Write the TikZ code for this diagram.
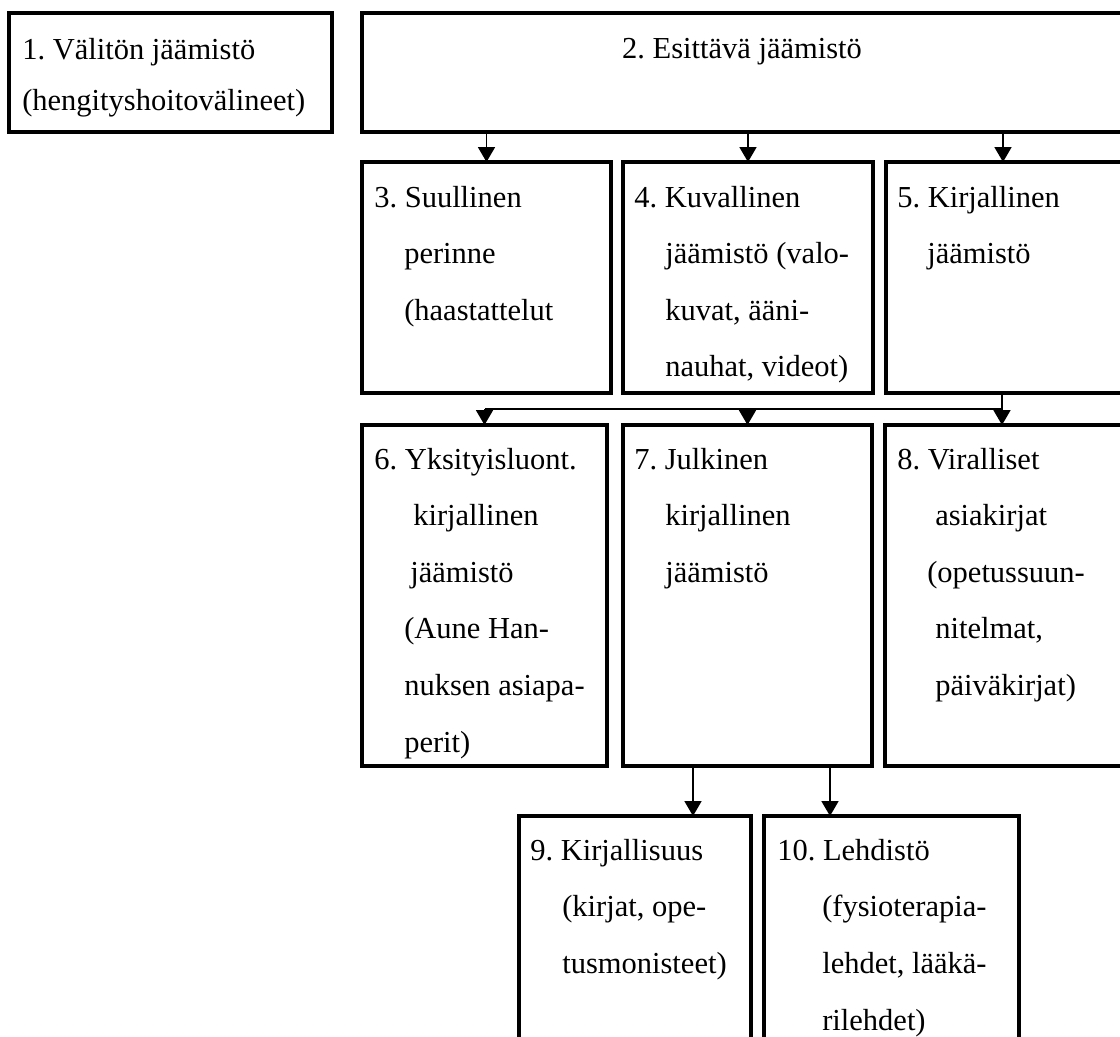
\documentclass[tikz,border=0pt]{standalone}
\usepackage{fontspec}
\setmainfont{Liberation Serif}
\frenchspacing
\usetikzlibrary{positioning, arrows.meta, calc}

\begin{document}
\begin{tikzpicture}[node distance=0.3cm]
    % Define styles
    \tikzstyle{block} = [rectangle, draw, line width=2.2pt, inner sep=0pt, outer sep=0pt, anchor=north west]
    \tikzstyle{txt} = [anchor=north west, inner sep=0pt, align=left, font=\fontsize{21.7pt}{40.2pt}\selectfont]
    \tikzstyle{arrow} = [line width=1.3pt, -{Triangle[width=0.42cm, length=0.37cm]}]

    \useasboundingbox (0,0) rectangle (28,-25.925);

    % Boxes
    \node [block, minimum width=8.075cm, minimum height=2.975cm] (vali) at (0.225,-0.325) {};
    \node [block, right=0.75cm of vali.north east, anchor=north west, minimum width=20cm, minimum height=2.975cm] (esit) {};
    \node [block, below=0.75cm of esit.south west, anchor=north west, minimum width=6.225cm, minimum height=5.775cm] (suull) {};
    \node [block, right=0.3cm of suull.north east, anchor=north west, minimum width=6.25cm, minimum height=5.775cm] (kuval) {};
    \node [block, right=0.325cm of kuval.north east, anchor=north west, minimum width=7cm, minimum height=5.775cm] (kirj) {};
    \node [block, below=0.8cm of suull.south west, anchor=north west, minimum width=6.125cm, minimum height=8.525cm] (yksit) {};
    \node [block, right=0.4cm of yksit.north east, anchor=north west, minimum width=6.225cm, minimum height=8.525cm] (julk) {};
    \node [block, right=0.325cm of julk.north east, anchor=north west, minimum width=7cm, minimum height=8.525cm] (viral) {};
    \node [block, below=1.25cm of yksit.south west, anchor=north west, xshift=3.925cm, minimum width=5.8cm, minimum height=6.1cm] (kirjall) {};
    \node [block, right=0.325cm of kirjall.north east, anchor=north west, minimum width=6.375cm, minimum height=6.1cm] (lehd) {};

    % Texts
    \node [txt, font=\fontsize{21.7pt}{36.3pt}\selectfont] (vali-t) at ([shift={(0.325,-0.625)}]vali.north west) {1. Välitön jäämistö\\(hengityshoitovälineet)};
    \node [txt, anchor=base] (esit-t) at ([shift={(9.5,-1.15)}]esit.north west) {2. Esittävä jäämistö};
    \node [txt] (suull-t) at ([shift={(0.3,-0.6)}]suull.north west) {3. Suullinen\\\hspace*{0.75cm}perinne\\\hspace*{0.75cm}(haastattelut};
    \node [txt] (kuval-t) at ([shift={(0.275,-0.6)}]kuval.north west) {4. Kuvallinen\\\hspace*{0.775cm}jäämistö (valo-\\\hspace*{0.775cm}kuvat, ääni-\\\hspace*{0.775cm}nauhat, videot)};
    \node [txt] (kirj-t) at ([shift={(0.275,-0.6)}]kirj.north west) {5. Kirjallinen\\\hspace*{0.75cm}jäämistö};
    \node [txt] (yksit-t) at ([shift={(0.3,-0.575)}]yksit.north west) {6. Yksityisluont.\\\hspace*{0.975cm}kirjallinen\\\hspace*{0.9cm}jäämistö\\\hspace*{0.75cm}(Aune Han-\\\hspace*{0.75cm}nuksen asiapa-\\\hspace*{0.75cm}perit)};
    \node [txt] (julk-t) at ([shift={(0.275,-0.575)}]julk.north west) {7. Julkinen\\\hspace*{0.775cm}kirjallinen\\\hspace*{0.775cm}jäämistö};
    \node [txt] (viral-t) at ([shift={(0.3,-0.575)}]viral.north west) {8. Viralliset\\\hspace*{0.95cm}asiakirjat\\\hspace*{0.75cm}(opetussuun-\\\hspace*{0.95cm}nitelmat,\\\hspace*{0.95cm}päiväkirjat)};
    \node [txt] (kirjall-t) at ([shift={(0.275,-0.575)}]kirjall.north west) {9. Kirjallisuus\\\hspace*{0.8cm}(kirjat, ope-\\\hspace*{0.8cm}tusmonisteet)};
    \node [txt] (lehd-t) at ([shift={(0.325,-0.575)}]lehd.north west) {10. Lehdistö\\\hspace*{1.125cm}(fysioterapia-\\\hspace*{1.125cm}lehdet, lääkä-\\\hspace*{1.125cm}rilehdet)};

    % Arrows
    \coordinate (k5) at ([xshift=2.925cm]kirj.north west);
    \draw [arrow] (suull.north |- esit.south) -- (suull.north);
    \draw [arrow] (kuval.north |- esit.south) -- (kuval.north);
    \draw [arrow] (k5 |- esit.south) -- (k5);

    \coordinate (haara) at ([shift={(2.9,-0.4)}]kirj.south west);
    \draw [line width=1.3pt] (haara |- kirj.south) -- (haara) -- (haara -| yksit.north);
    \draw [arrow] (haara -| yksit.north) -- (yksit.north);
    \draw [arrow] (haara -| julk.north) -- (julk.north);
    \draw [arrow] (haara) -- (haara |- viral.north);

    \coordinate (j1) at ([xshift=1.75cm]julk.south west);
    \coordinate (j2) at ([xshift=5.175cm]julk.south west);
    \draw [arrow] (j1) -- (j1 |- kirjall.north);
    \draw [arrow] (j2) -- (j2 |- lehd.north);
\end{tikzpicture}
\end{document}
